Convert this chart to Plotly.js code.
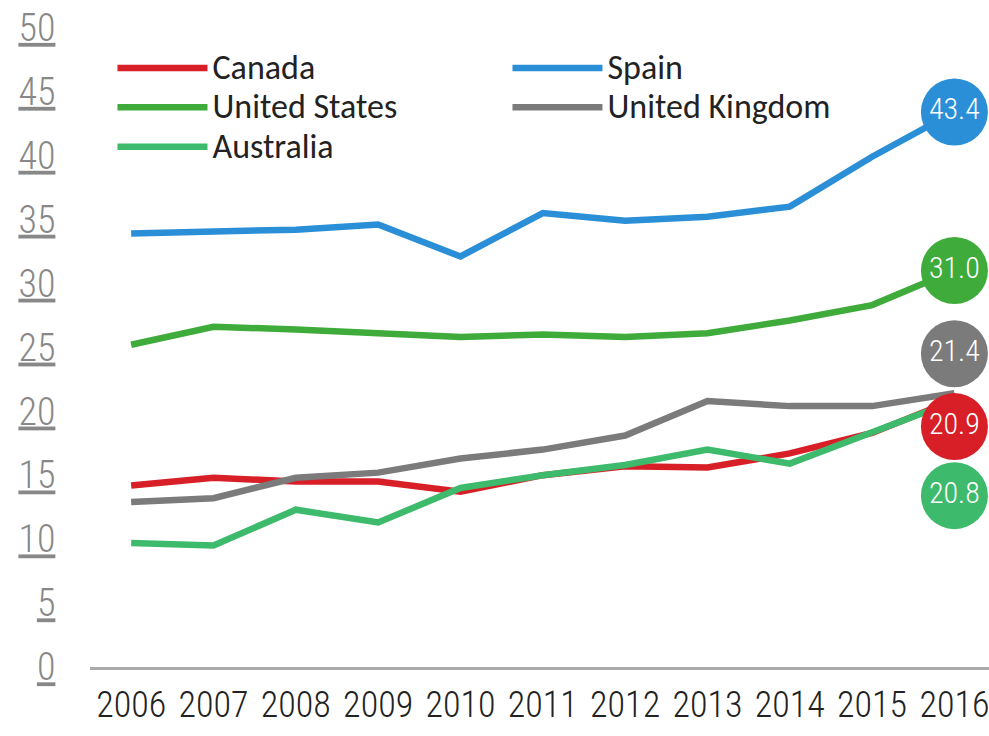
<!DOCTYPE html>
<html>
<head>
<meta charset="utf-8">
<script src="https://cdn.plot.ly/plotly-3.0.1.min.js"></script>
<style>html,body{margin:0;padding:0;background:#fff;}#chart{width:989px;height:736px;}</style>
</head>
<body>
<div id="chart"></div>
<script>
const years = [2006, 2007, 2008, 2009, 2010, 2011, 2012, 2013, 2014, 2015, 2016];
const canada = [14.2, 14.8, 14.5, 14.5, 13.7, 15.0, 15.7, 15.6, 16.7, 18.3, 20.9];
const spain = [33.9, 34.1, 34.2, 34.6, 32.1, 35.5, 34.9, 35.2, 36.0, 39.9, 43.4];
const unitedStates = [25.2, 26.6, 26.4, 26.1, 25.8, 26.0, 25.8, 26.1, 27.1, 28.3, 31.0];
const unitedKingdom = [12.9, 13.2, 14.8, 15.2, 16.3, 17.0, 18.1, 20.8, 20.4, 20.4, 21.4];
const australia = [9.7, 9.5, 12.3, 11.3, 14.0, 15.0, 15.8, 17.0, 15.9, 18.3, 20.8];

const seriesNames = ['Canada', 'Spain', 'United States', 'United Kingdom', 'Australia'];
const seriesValues = [canada, spain, unitedStates, unitedKingdom, australia];
const seriesColors = ['#d81f27', '#2b8fd8', '#3eab3a', '#7b7b7b', '#3dba6b'];
// vertical nudge of the end-value bubbles so they do not overlap (in axis units)
const bubbleNudge = [-2.1, 0, 0, 3.1, -7.4];

const yTickVals = [0, 5, 10, 15, 20, 25, 30, 35, 40, 45, 50];
const yTickText = yTickVals.map(v => '<u>' + v + '</u>');

const narrow = '"Roboto Condensed", "Liberation Sans Narrow", "DejaVu Sans Condensed", sans-serif';

const traces = seriesNames.map((name, i) => ({
  type: 'scatter', mode: 'lines',
  name: '<span style="font-size:34px">' + name + '</span>',
  x: years, y: seriesValues[i],
  line: {color: seriesColors[i], width: 6.5},
  hoverinfo: 'skip'
}));

const lastIdx = years.length - 1;
traces.push({
  type: 'scatter', mode: 'markers+text', showlegend: false,
  x: seriesValues.map(() => years[lastIdx]),
  y: seriesValues.map((s, i) => s[lastIdx] + bubbleNudge[i]),
  text: seriesValues.map(s => s[lastIdx].toFixed(1)),
  textposition: 'middle center',
  textfont: {family: narrow, size: 30, color: '#ffffff', weight: 300},
  marker: {size: 67, color: seriesColors, line: {width: 0}},
  cliponaxis: false,
  hoverinfo: 'skip'
});

const layout = {
  width: 989, height: 736,
  margin: {l: 90, r: 0, t: 2, b: 69},
  paper_bgcolor: '#ffffff', plot_bgcolor: '#ffffff',
  showlegend: true,
  legend: {
    orientation: 'h', x: 0.025, y: 0.938, xanchor: 'left', yanchor: 'top',
    entrywidth: 290, entrywidthmode: 'pixels', itemwidth: 90,
    font: {family: 'Carlito, Lato, sans-serif', size: 28, color: '#222222'},
    bgcolor: 'rgba(0,0,0,0)', traceorder: 'normal'
  },
  xaxis: {
    range: [2005.5, 2016.42],
    tickvals: years, ticktext: years.map(String),
    showgrid: false, zeroline: false,
    showline: true, linecolor: '#aaaaaa', linewidth: 3,
    ticks: 'outside', ticklen: 4, tickcolor: 'rgba(0,0,0,0)',
    ticklabeloverflow: 'allow',
    tickfont: {family: narrow, size: 36, color: '#222222', weight: 300}
  },
  yaxis: {
    range: [0, 52],
    tickvals: yTickVals, ticktext: yTickText,
    showgrid: false, zeroline: false, showline: false,
    ticks: 'outside', ticklen: 26, tickcolor: 'rgba(0,0,0,0)',
    tickfont: {family: narrow, size: 38, color: '#888888', weight: 300}
  }
};

Plotly.newPlot('chart', traces, layout, {staticPlot: true, displayModeBar: false});
</script>
</body>
</html>
